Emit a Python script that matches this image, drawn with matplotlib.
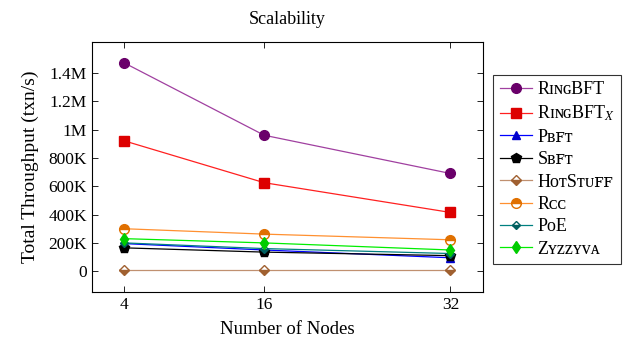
import matplotlib
matplotlib.use("Agg")
import matplotlib.pyplot as plt

plt.rcParams['font.family'] = ['Liberation Serif', 'DejaVu Serif']
plt.rcParams['mathtext.fontset'] = 'stix'

nodes = [4, 16, 32]
ringbft = [1470000, 960000, 690000]
ringbft_x = [920000, 625000, 415000]
pbft = [195000, 150000, 95000]
sbft = [165000, 135000, 110000]
hotstuff = [10000, 10000, 10000]
rcc = [300000, 262000, 222000]
poe = [200000, 160000, 125000]
zyzzyva = [230000, 200000, 150000]

yticks = [0, 200000, 400000, 600000, 800000, 1000000, 1200000, 1400000]
ytick_labels = ['0', '200K', '400K', '600K', '800K', '1M', '1.2M', '1.4M']

series = [
    ('Rɪɴɢ' + 'BFT', ringbft, dict(color='#a040a0', marker='o', mfc='#6a006a', mec='#6a006a', ms=7)),
    ('Rɪɴɢ' + 'BFT$_X$', ringbft_x, dict(color='#ff2020', marker='s', mfc='#dd0000', mec='#dd0000', ms=7)),
    ('Pʙꜰᴛ', pbft, dict(color='#0000ff', marker='^', mfc='#0000cc', mec='#0000cc', ms=5.5)),
    ('Sʙꜰᴛ', sbft, dict(color='black', marker='p', mfc='black', mec='black', ms=7)),
    ('HᴏᴛSᴛᴜꜰꜰ', hotstuff, dict(color='#c09070', marker='D', mfc='#a06030', mec='#a06030',
                                fillstyle='bottom', mfcalt='white', ms=5)),
    ('Rᴄᴄ', rcc, dict(color='#ff9030', marker='o', mfc='#e07000', mec='#e07000',
                      fillstyle='top', mfcalt='white', ms=7)),
    ('PoE', poe, dict(color='#008080', marker='D', mfc='#006060', mec='#006060',
                      fillstyle='bottom', mfcalt='white', ms=4.5)),
    ('Zʏᴢᴢʏᴠᴀ', zyzzyva, dict(color='#00ee00', marker='d', mfc='#00cc00', mec='#00cc00', ms=6)),
]

fig = plt.figure(figsize=(6.29, 3.40), dpi=100)
ax = fig.add_axes([0.146, 0.141, 0.622, 0.735])

for name, vals, st in series:
    ax.plot(nodes, vals, lw=0.9, label=name, **st)

ax.set_xlim(1.2, 34.8)
ax.set_ylim(-147000, 1617000)
ax.set_xticks(nodes)
ax.set_xticklabels([str(n) for n in nodes])
ax.set_yticks(yticks)
ax.set_yticklabels(ytick_labels)
ax.tick_params(direction='in', top=True, right=True, labelsize=12.5, length=4, width=0.6)
for sp in ax.spines.values():
    sp.set_linewidth(0.8)
ax.set_xlabel('Number of Nodes', fontsize=13.5, labelpad=6)
ax.set_ylabel('Total Throughput (txn/s)', fontsize=14, labelpad=7)
ax.set_title('Scalability', fontsize=13, pad=13)

leg = ax.legend(loc='upper left', bbox_to_anchor=(1.026, 0.868), fontsize=13,
                frameon=True, fancybox=False, edgecolor='black',
                handlelength=1.8, handletextpad=0.3, labelspacing=0.3,
                borderpad=0.35, borderaxespad=0)
leg.get_frame().set_linewidth(0.8)

fig.savefig('out.png', dpi=100)
